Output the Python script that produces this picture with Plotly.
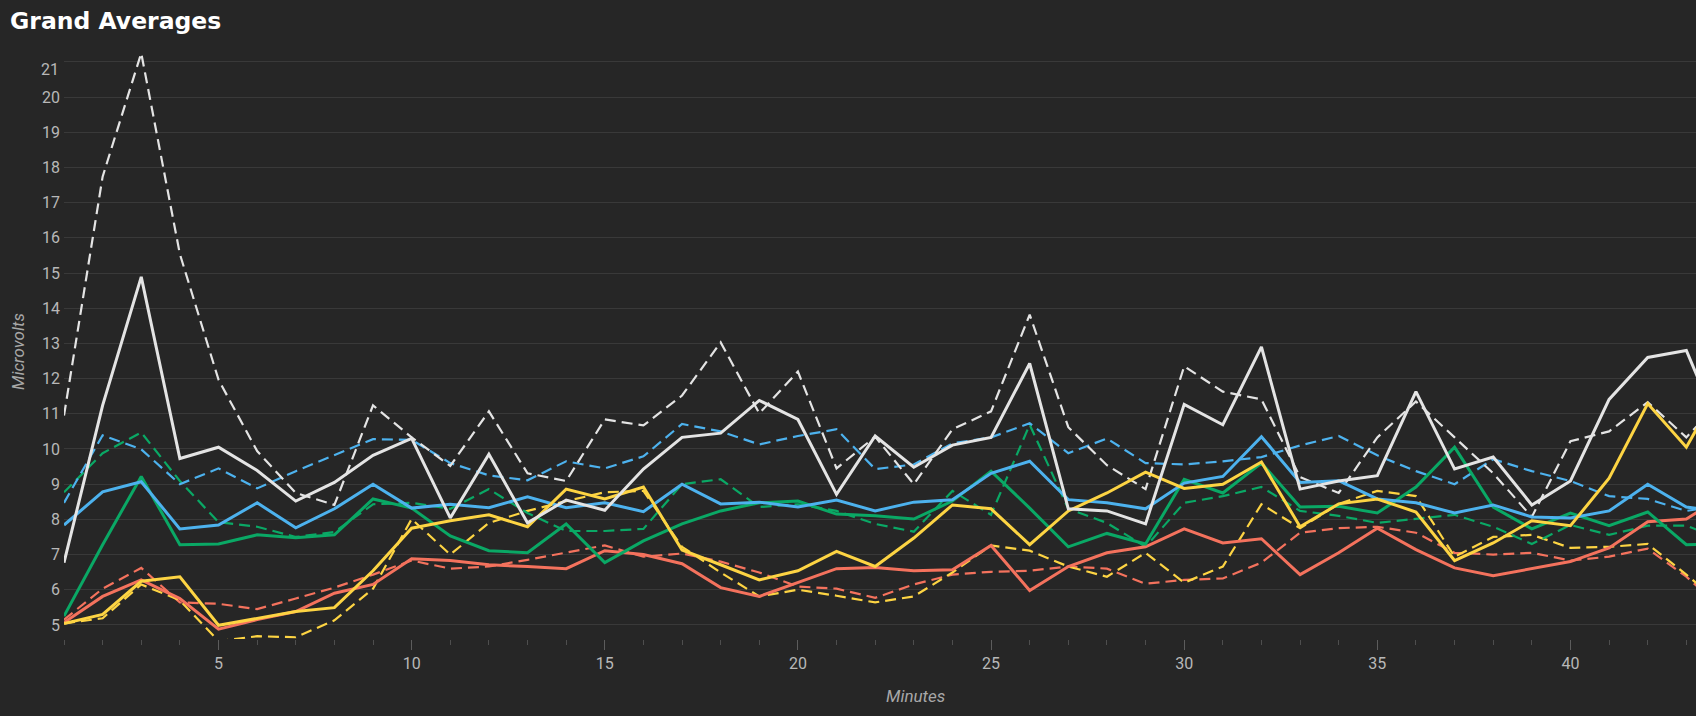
import plotly.graph_objects as go

minutes = list(range(1, 45))

white_dashed = [10.95, 17.74, 21.25, 15.54, 11.97, 9.94, 8.75, 8.41, 11.24, 10.33, 9.52, 11.07,
                9.31, 9.09, 10.84, 10.67, 11.52, 13.03, 11.01, 12.2, 9.45, 10.35, 9.0, 10.56,
                11.07, 13.82, 10.62, 9.54, 8.86, 12.35, 11.63, 11.41, 9.2, 8.75, 10.33, 11.35,
                10.33, 9.31, 8.07, 10.22, 10.5, 11.33, 10.33, 11.5]
white_solid = [6.77, 11.24, 14.89, 9.73, 10.05, 9.39, 8.52, 9.05, 9.82, 10.3, 8.04, 9.85,
               7.9, 8.55, 8.26, 9.43, 10.33, 10.45, 11.38, 10.84, 8.71, 10.37, 9.48, 10.11,
               10.33, 12.43, 8.3, 8.24, 7.87, 11.27, 10.69, 12.9, 8.86, 9.09, 9.24, 11.63,
               9.43, 9.77, 8.41, 9.09, 11.41, 12.6, 12.8, 10.2]
blue_dashed = [8.47, 10.39, 9.99, 9.0, 9.45, 8.88, 9.37, 9.82, 10.28, 10.26, 9.6, 9.25,
               9.11, 9.65, 9.45, 9.79, 10.71, 10.5, 10.13, 10.37, 10.56, 9.43, 9.56, 10.16,
               10.33, 10.73, 9.88, 10.3, 9.6, 9.56, 9.65, 9.77, 10.1, 10.37, 9.82, 9.37,
               9.0, 9.71, 9.37, 9.09, 8.66, 8.58, 8.24, 8.4]
blue_solid = [7.84, 8.78, 9.07, 7.73, 7.84, 8.47, 7.76, 8.3, 9.0, 8.32, 8.43, 8.33,
              8.64, 8.33, 8.47, 8.22, 9.0, 8.44, 8.49, 8.35, 8.55, 8.24, 8.49, 8.56,
              9.31, 9.65, 8.56, 8.47, 8.3, 9.03, 9.22, 10.35, 9.05, 9.1, 8.58, 8.47,
              8.18, 8.41, 8.07, 8.04, 8.24, 9.0, 8.35, 8.2]
green_dashed = [8.77, 9.88, 10.47, 9.09, 7.92, 7.79, 7.5, 7.64, 8.43, 8.47, 8.3, 8.86,
                8.18, 7.67, 7.67, 7.73, 9.0, 9.14, 8.35, 8.43, 8.24, 7.87, 7.65, 8.81,
                8.13, 10.69, 8.3, 7.9, 7.22, 8.47, 8.66, 8.92, 8.24, 8.1, 7.9, 8.01,
                8.13, 7.79, 7.3, 7.84, 7.56, 7.82, 7.82, 7.4]
green_solid = [5.25, 7.28, 9.22, 7.28, 7.3, 7.56, 7.48, 7.56, 8.58, 8.32, 7.53, 7.11,
               7.05, 7.87, 6.77, 7.39, 7.87, 8.24, 8.47, 8.52, 8.15, 8.1, 8.01, 8.52,
               9.37, 8.32, 7.22, 7.6, 7.3, 9.14, 8.75, 9.6, 8.35, 8.37, 8.18, 8.92,
               10.05, 8.35, 7.73, 8.18, 7.82, 8.21, 7.28, 7.3]
yellow_solid = [5.04, 5.3, 6.24, 6.37, 4.99, 5.19, 5.38, 5.49, 6.54, 7.75, 7.96, 8.13,
                7.79, 8.86, 8.58, 8.92, 7.13, 6.71, 6.28, 6.54, 7.09, 6.66, 7.47, 8.41,
                8.3, 7.28, 8.24, 8.75, 9.34, 8.88, 9.0, 9.63, 7.79, 8.44, 8.58, 8.21,
                6.83, 7.33, 7.96, 7.82, 9.17, 11.29, 10.05, 12.0]
yellow_dashed = [5.04, 5.19, 6.15, 5.7, 4.54, 4.68, 4.65, 5.13, 6.03, 8.01, 7.0, 7.9,
                 8.24, 8.52, 8.77, 8.81, 7.22, 6.49, 5.81, 6.0, 5.83, 5.64, 5.81, 6.49,
                 7.26, 7.11, 6.66, 6.37, 7.05, 6.2, 6.66, 8.43, 7.75, 8.44, 8.81, 8.66,
                 6.94, 7.5, 7.56, 7.19, 7.22, 7.3, 6.43, 5.5]
red_solid = [5.07, 5.81, 6.28, 5.75, 4.88, 5.15, 5.38, 5.9, 6.15, 6.88, 6.83, 6.71,
             6.66, 6.6, 7.11, 7.0, 6.74, 6.06, 5.81, 6.2, 6.6, 6.63, 6.54, 6.57,
             7.26, 5.98, 6.66, 7.05, 7.22, 7.73, 7.33, 7.45, 6.43, 7.05, 7.75, 7.14,
             6.62, 6.4, 6.6, 6.8, 7.19, 7.93, 8.01, 8.7]
red_dashed = [5.15, 6.03, 6.62, 5.64, 5.6, 5.45, 5.75, 6.06, 6.43, 6.83, 6.6, 6.66,
              6.85, 7.05, 7.26, 6.94, 7.03, 6.8, 6.49, 6.09, 6.03, 5.77, 6.15, 6.43,
              6.51, 6.54, 6.66, 6.6, 6.17, 6.28, 6.32, 6.77, 7.62, 7.75, 7.79, 7.62,
              7.05, 7.0, 7.05, 6.83, 6.94, 7.17, 6.37, 5.4]

y_ticks = list(range(5, 22))
x_ticks = list(range(5, 45, 5))

WHITE = "#e4e4e4"
BLUE = "#4db2ee"
GREEN = "#0aa865"
YELLOW = "#fdd443"
RED = "#f4725d"

series = [
    ("Red (dashed)", red_dashed, RED, True),
    ("Yellow (dashed)", yellow_dashed, YELLOW, True),
    ("Green (dashed)", green_dashed, GREEN, True),
    ("Blue (dashed)", blue_dashed, BLUE, True),
    ("White (dashed)", white_dashed, WHITE, True),
    ("Red", red_solid, RED, False),
    ("Green", green_solid, GREEN, False),
    ("Blue", blue_solid, BLUE, False),
    ("Yellow", yellow_solid, YELLOW, False),
    ("White", white_solid, WHITE, False),
]

fig = go.Figure()
for name, vals, color, dashed in series:
    fig.add_trace(go.Scatter(
        x=minutes, y=vals, mode="lines", name=name,
        line=dict(color=color, width=2.2 if dashed else 3,
                  dash="11px,6px" if dashed else "solid"),
        hoverinfo="skip",
    ))

BG = "#262626"
TICKCOL = "#b8b8b8"
TFONT = dict(family="Roboto", size=16, color=TICKCOL)

fig.update_layout(
    width=1696, height=716,
    paper_bgcolor=BG, plot_bgcolor=BG,
    margin=dict(l=64, r=0, t=44, b=77),
    showlegend=False,
    title=dict(text="<b>Grand Averages</b>", x=10 / 1696, xanchor="left",
               xref="container", y=1 - 21 / 716, yref="container", yanchor="middle",
               font=dict(family="DejaVu Sans", size=23.5, color="#ffffff")),
    font=dict(family="Roboto", color=TICKCOL),
    xaxis=dict(range=[1, 43.25], tickvals=x_ticks, ticks="outside", ticklen=10,
               tickcolor="#5c5c5c", tickwidth=1, showgrid=False, zeroline=False,
               showline=False, tickfont=TFONT,
               minor=dict(tickvals=minutes, ticks="outside", ticklen=5,
                          tickcolor="#4e4e4e", showgrid=False)),
    yaxis=dict(range=[4.6, 21.51], tickvals=y_ticks,
               ticktext=[str(v) if v != 21 else "" for v in y_ticks],
               showgrid=True, gridcolor="#393939", gridwidth=1, zeroline=False,
               showline=False, ticks="", ticklabelstandoff=3,
               tickfont=TFONT),
    annotations=[
        dict(text="21", xref="paper", yref="y", x=0, y=21, xanchor="right",
             yanchor="middle", xshift=-3, yshift=-8, showarrow=False,
             font=TFONT),
        dict(text="<i>Microvolts</i>", xref="paper", yref="paper",
             x=-(64 - 18) / 1632, y=(639 - 352) / 595, textangle=-90,
             xanchor="center", yanchor="middle", showarrow=False,
             font=dict(family="Roboto", size=17, color="#a8a8a8")),
        dict(text="<i>Minutes</i>", xref="paper", yref="paper",
             x=(915 - 64) / 1632, y=-(696 - 639) / 595, xanchor="center",
             yanchor="middle", showarrow=False,
             font=dict(family="Roboto", size=17, color="#a8a8a8")),
    ],
)

fig.write_html("out.html", config={"displayModeBar": False},
               post_script="document.body.style.margin='0';document.body.style.overflow='hidden';")
